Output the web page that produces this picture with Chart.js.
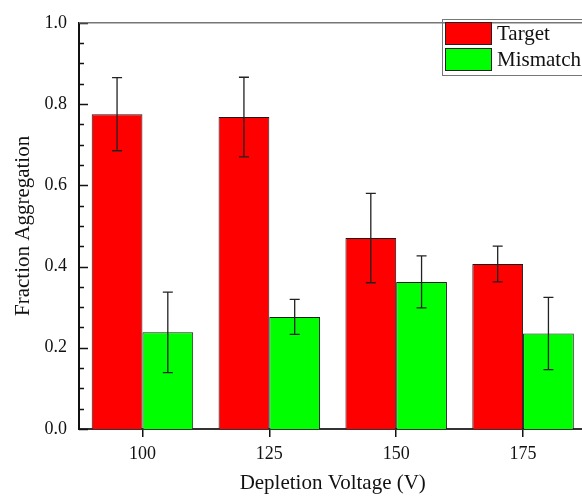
<!DOCTYPE html>
<html>
<head>
<meta charset="utf-8">
<script src="https://cdn.jsdelivr.net/npm/chart.js@4.4.1/dist/chart.umd.min.js"></script>
<style>
html, body { margin: 0; padding: 0; background: #fff; overflow: hidden; }
</style>
</head>
<body>
<canvas id="barChart" width="588" height="496"></canvas>
<script>
// data
const voltages = ["100", "125", "150", "175"];
const targetValues = [0.775, 0.768, 0.470, 0.406];
const targetErrors = [0.090, 0.098, 0.110, 0.044];
const mismatchValues = [0.238, 0.276, 0.362, 0.235];
const mismatchErrors = [0.099, 0.043, 0.064, 0.089];
const yMin = 0, yMax = 1, yStep = 0.2, yMinorStep = 0.05;

const serif = "'Liberation Serif', 'Times New Roman', serif";

// error bars from each dataset's errors array
const errorBars = {
    id: 'errorBars',
    afterDatasetsDraw(chart) {
        const ctx = chart.ctx, y = chart.scales.y;
        ctx.save();
        ctx.strokeStyle = '#222';
        ctx.lineWidth = 1.3;
        chart.data.datasets.forEach((ds, i) => {
            chart.getDatasetMeta(i).data.forEach((bar, j) => {
                const top = y.getPixelForValue(ds.data[j] + ds.errors[j]);
                const bot = y.getPixelForValue(ds.data[j] - ds.errors[j]);
                const x = bar.x;
                ctx.beginPath();
                ctx.moveTo(x, top); ctx.lineTo(x, bot);
                ctx.moveTo(x - 5, top); ctx.lineTo(x + 5, top);
                ctx.moveTo(x - 5, bot); ctx.lineTo(x + 5, bot);
                ctx.stroke();
            });
        });
        ctx.restore();
    }
};

// inward ticks on the y axis, top frame line and boxed legend
const frame = {
    id: 'frame',
    afterDraw(chart) {
        const ctx = chart.ctx, y = chart.scales.y, a = chart.chartArea;
        ctx.save();
        ctx.strokeStyle = '#111';
        ctx.lineWidth = 1.5;
        const n = Math.round((yMax - yMin) / yMinorStep);
        for (let k = 0; k <= n; k++) {
            const v = yMin + k * yMinorStep;
            const py = Math.round(y.getPixelForValue(v)) + 0.5;
            const len = (k % Math.round(yStep / yMinorStep) === 0) ? 9 : 5;
            ctx.beginPath();
            ctx.moveTo(a.left, py); ctx.lineTo(a.left + len, py);
            ctx.stroke();
        }
        ctx.strokeStyle = '#777';
        ctx.lineWidth = 1.5;
        ctx.beginPath();
        ctx.moveTo(a.left, a.top); ctx.lineTo(a.right, a.top);
        ctx.stroke();

        // legend
        const lx = 442, ly = 19, lw = 150, lh = 56;
        ctx.strokeStyle = '#777';
        ctx.lineWidth = 1;
        ctx.strokeRect(lx + 0.5, ly + 0.5, lw, lh);
        ctx.font = "21px " + serif;
        ctx.textBaseline = 'middle';
        chart.data.datasets.forEach((ds, i) => {
            const sy = ly + 3 + i * 26;
            ctx.fillStyle = ds.backgroundColor;
            ctx.fillRect(lx + 3, sy, 47, 23);
            ctx.strokeStyle = '#222';
            ctx.strokeRect(lx + 3.5, sy + 0.5, 46, 22);
            ctx.fillStyle = '#111';
            ctx.fillText(ds.label, lx + 55, sy + 12);
        });
        ctx.restore();
    }
};

new Chart(document.getElementById('barChart').getContext('2d'), {
    type: 'bar',
    data: {
        labels: voltages,
        datasets: [
            {
                label: 'Target',
                data: targetValues,
                errors: targetErrors,
                backgroundColor: '#ff0000',
                borderColor: '#1a1a1a',
                borderWidth: 1
            },
            {
                label: 'Mismatch',
                data: mismatchValues,
                errors: mismatchErrors,
                backgroundColor: '#00ff00',
                borderColor: '#1a1a1a',
                borderWidth: 1
            }
        ]
    },
    options: {
        responsive: false,
        animation: false,
        layout: { autoPadding: false, padding: { top: 20, right: 1.5, left: 0, bottom: 0 } },
        plugins: { legend: { display: false }, tooltip: { enabled: false } },
        datasets: { bar: { categoryPercentage: 0.8, barPercentage: 1 } },
        scales: {
            x: {
                afterFit(s) { s.height = 67; },
                grid: { offset: false, drawOnChartArea: false, tickLength: 8, color: '#111', lineWidth: 1.5 },
                border: { color: '#333', width: 2 },
                ticks: { color: '#111', padding: 6, font: { family: serif, size: 18 } },
                title: { display: true, text: 'Depletion Voltage (V)', color: '#111', padding: { top: 4, bottom: 0 }, font: { family: serif, size: 21 } }
            },
            y: {
                min: yMin,
                max: yMax,
                afterFit(s) { s.width = 79; },
                grid: { display: false, drawTicks: false },
                border: { display: true, color: '#111', width: 2 },
                ticks: { stepSize: yStep, color: '#111', padding: 12, font: { family: serif, size: 18 },
                    callback: v => v.toFixed(1) },
                title: { display: true, text: 'Fraction Aggregation', color: '#111', padding: { top: 11, bottom: 4 }, font: { family: serif, size: 21 } }
            }
        }
    },
    plugins: [errorBars, frame]
});
</script>
</body>
</html>
